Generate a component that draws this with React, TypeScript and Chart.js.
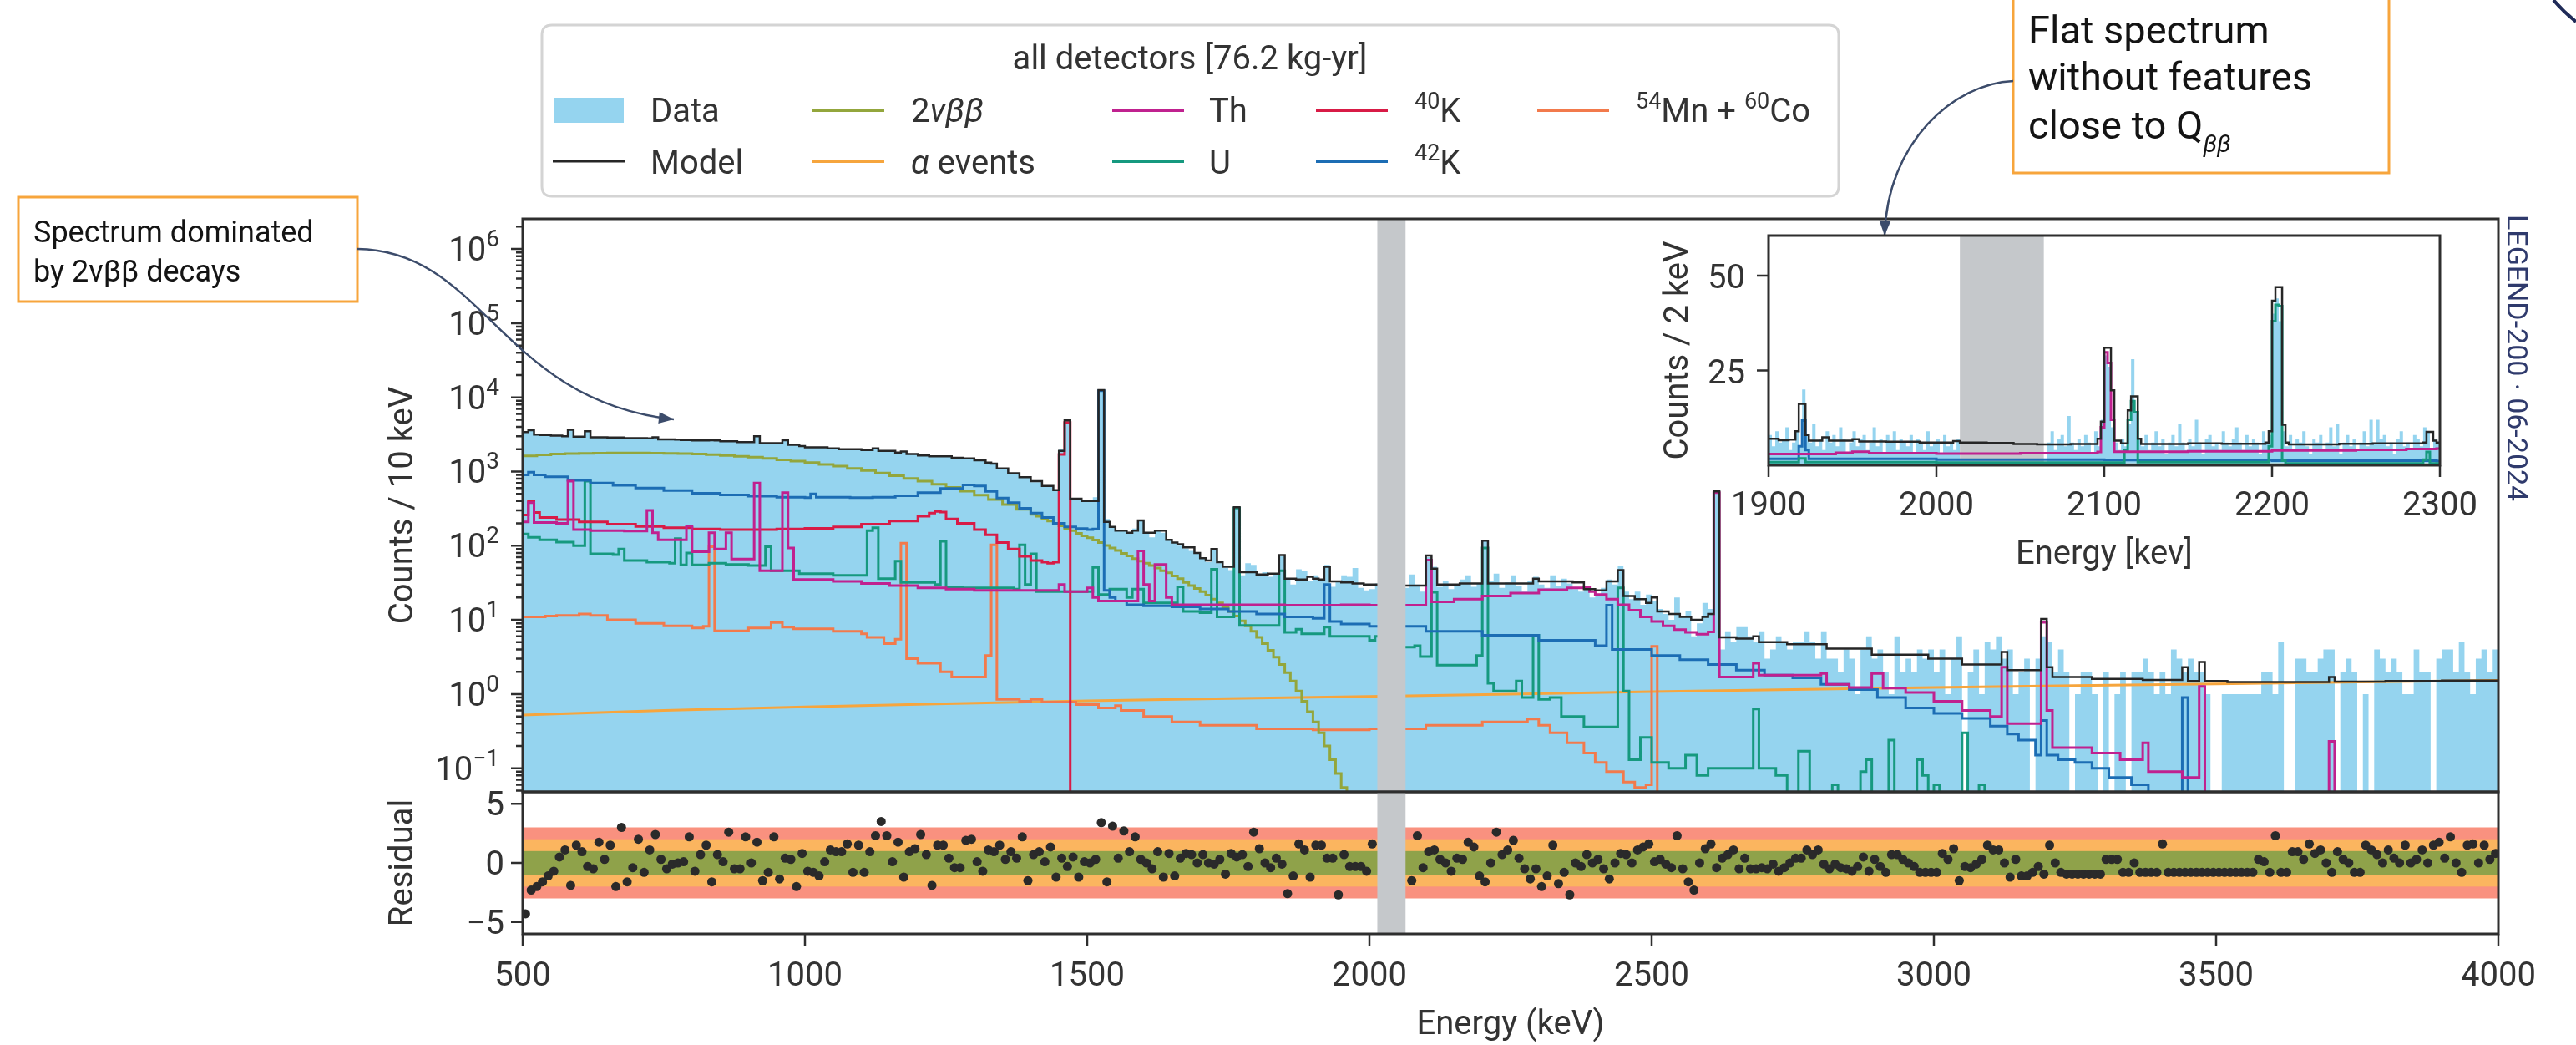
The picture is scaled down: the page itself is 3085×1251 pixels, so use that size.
import React, { useEffect, useRef } from 'react';
import { Chart, registerables } from 'chart.js';

Chart.register(...registerables);

type Pair = [number, number];

// ---------------- values ----------------
const X_TICKS = [500, 1000, 1500, 2000, 2500, 3000, 3500, 4000];
const Y_DECADES = [-1, 0, 1, 2, 3, 4, 5, 6];
const RES_TICKS = [-5, 0, 5];
const RES_BANDS = [3, 2, 1];
const INSET_X_TICKS = [1900, 2000, 2100, 2200, 2300];
const INSET_Y_TICKS = [25, 50];
const BLIND: Pair = [2014, 2064];
const X_RANGE: Pair = [500, 4000];
const Y_RANGE: Pair = [0.048, 2.55e6];
const RES_RANGE: Pair = [-6, 6];
const INSET_X_RANGE: Pair = [1900, 2300];
const INSET_Y_RANGE: Pair = [0, 60.6];

// main spectrum, counts / 10 keV, [bin start keV, value]
const MODEL: Pair[] = [[500,3400],[510,3600],[520,3150],[530,3100],[550,3050],[570,3000],[580,3650],[590,2950],[610,3500],[620,2900],[650,2870],[680,2830],[720,2800],[730,2900],[740,2720],[770,2700],[780,2660],[800,2620],[830,2650],[840,2620],[850,2560],[880,2500],[910,3000],[920,2420],[960,2650],[970,2300],[990,2200],[1000,2120],[1040,2060],[1060,2000],[1100,1950],[1120,2050],[1130,1900],[1160,1800],[1170,1860],[1180,1720],[1200,1650],[1220,1600],[1260,1530],[1280,1500],[1300,1420],[1320,1320],[1330,1280],[1340,1100],[1360,950],[1380,840],[1400,740],[1420,640],[1440,560],[1450,1900],[1460,4900],[1470,430],[1490,400],[1520,12500],[1530,210],[1540,180],[1550,160],[1570,150],[1580,160],[1590,220],[1600,150],[1620,160],[1640,120],[1650,110],[1660,105],[1670,95],[1690,80],[1700,68],[1710,63],[1720,90],[1730,60],[1740,52],[1760,330],[1770,44],[1800,41],[1820,42],[1840,75],[1850,36],[1870,35],[1890,38],[1900,36],[1910,35],[1920,52],[1930,33],[1950,32],[1970,31],[1990,30],[2050,29],[2100,74],[2110,49],[2120,30],[2160,31],[2200,117],[2210,31],[2290,36],[2300,33],[2360,32],[2380,26],[2400,25],[2420,33],[2440,47],[2450,21],[2470,19],[2490,17],[2500,20],[2510,13],[2530,12],[2550,11],[2570,10],[2590,11],[2600,12],[2610,540],[2620,5.8],[2650,5.6],[2680,6],[2690,5],[2740,4.7],[2810,4.1],[2890,3.4],[2990,3.0],[3050,2.5],[3120,3.7],[3130,2.1],[3190,10.3],[3200,2.3],[3210,1.7],[3280,1.6],[3370,1.55],[3440,2.3],[3450,1.5],[3470,2.7],[3480,1.5],[3520,1.45],[3700,1.7],[3710,1.47],[3800,1.5],[3900,1.52]];

const DATA_LOW: Pair[] = [[500,3350],[510,3650],[520,3100],[530,3120],[550,3000],[570,3020],[580,3600],[590,2900],[610,3450],[620,2880],[650,2850],[680,2850],[720,2780],[730,2850],[740,2740],[770,2680],[800,2640],[830,2600],[840,2640],[850,2540],[880,2520],[910,2950],[920,2400],[960,2700],[970,2280],[990,2190],[1000,2100],[1040,2080],[1060,1980],[1100,1960],[1120,2020],[1130,1880],[1160,1790],[1170,1880],[1180,1700],[1200,1660],[1220,1580],[1240,1620],[1260,1510],[1280,1480],[1300,1430],[1320,1300],[1330,1290],[1340,1120],[1360,930],[1380,850],[1400,720],[1420,650],[1440,570],[1450,2000],[1460,4700],[1470,440],[1490,390],[1510,450],[1520,12000],[1530,230],[1540,175],[1550,165],[1570,145],[1580,170],[1590,215]];

// data from 1600 keV on, one value per 10 keV bin
const DATA_HIGH_START = 1600;
const DATA_HIGH: number[] = [
  150,130,165,150,118,112,100,92,85,78,
  70,60,88,58,50,47,330,40,58,55,
  40,44,38,42,72,36,30,48,46,33,
  40,35,55,28,34,40,38,50,27,25,
  26,31,0,0,0,0,27,41,30,24,
  70,52,28,33,26,30,35,40,28,31,
  120,34,42,27,32,40,29,24,33,38,
  30,27,40,29,36,31,26,24,28,20,
  22,27,35,30,54,24,19,24,16,22,
  18,14,12,10,20,11,13,6,9,17,
  14,530,4,7,5,8,8,6,5,7,
  3,4,6,5,4,5,5,7,5,3,
  7,3,3,2,4,3,1,4,6,3,
  4,2,1,6,2,3,2,4,3,4,
  2,4,1,3,6,0,2,4,1,5,
  4,6,3,4,1,2,3,0,3,6,
  5,2,4,2,0,1,2,2,1,0,
  2,0,1,2,0,2,2,3,2,1,
  2,1,4,3,2,3,2,2,1,0,
  0,1,1,1,1,1,1,1,2,2,
  1,5,0,0,3,3,2,2,3,4,
  4,0,2,3,2,0,1,0,4,3,
  2,3,2,1,1,4,2,2,0,3,
  4,4,2,5,2,1,3,4,2,4,
];

const BB2NU: Pair[] = [[500,1630],[525,1680],[550,1720],[575,1745],[600,1760],[625,1772],[650,1780],[675,1782],[700,1780],[725,1772],[750,1760],[775,1742],[800,1720],[825,1690],[850,1650],[875,1608],[900,1560],[925,1502],[950,1440],[975,1382],[1000,1320],[1025,1250],[1050,1180],[1075,1105],[1100,1030],[1125,955],[1150,880],[1175,808],[1200,740],[1225,675],[1250,610],[1275,545],[1300,480],[1325,420],[1350,360],[1375,310],[1400,265],[1410,250],[1420,232],[1430,215],[1440,200],[1450,185],[1460,172],[1470,160],[1480,147],[1490,136],[1500,128],[1510,119],[1520,110],[1530,101],[1540,93],[1550,86],[1560,79],[1570,73],[1580,67],[1590,62],[1600,58],[1610,54],[1620,50],[1630,46],[1640,43],[1650,39],[1660,36],[1670,32],[1680,29],[1690,26.5],[1700,24],[1710,21.5],[1720,19],[1730,17],[1740,15],[1750,13],[1760,11.3],[1770,9.7],[1780,8.3],[1790,7.0],[1800,5.8],[1810,4.8],[1820,3.9],[1830,3.15],[1840,2.5],[1850,1.95],[1860,1.5],[1870,1.1],[1880,0.8],[1890,0.58],[1900,0.42],[1910,0.3],[1920,0.2],[1930,0.13],[1940,0.085],[1950,0.055],[1960,0]];

const ALPHA: Pair[] = [[500,0.52],[750,0.6],[1000,0.67],[1250,0.74],[1500,0.81],[1750,0.87],[2000,0.93],[2250,1.0],[2500,1.08],[2750,1.15],[3000,1.23],[3250,1.3],[3500,1.37],[3750,1.45],[4000,1.53]];

const TH: Pair[] = [[500,210],[510,380],[520,205],[560,200],[580,740],[590,165],[620,160],[680,158],[720,300],[730,150],[740,120],[790,185],[800,83],[830,150],[840,90],[860,150],[870,66],[900,66],[910,700],[920,46],[960,520],[970,93],[980,35],[1050,33],[1100,31],[1150,29],[1200,27],[1250,26],[1300,25],[1450,30],[1460,24],[1500,27],[1510,20],[1520,18],[1580,18],[1590,85],[1600,30],[1610,18],[1620,56],[1640,20],[1650,16],[1800,16],[1850,15.8],[1950,16],[2000,15.8],[2100,64],[2110,17.5],[2150,19],[2200,21],[2250,23],[2300,25.5],[2350,27],[2380,27.5],[2390,24],[2400,22],[2420,19],[2440,16],[2460,13.5],[2480,11],[2500,9.5],[2520,8.3],[2540,7.4],[2560,6.8],[2580,6.4],[2600,6.9],[2610,520],[2620,1.7],[2680,2.6],[2690,1.8],[2800,1.9],[2810,1.35],[2850,1.23],[2890,1.9],[2910,1.2],[2950,1.05],[3000,0.8],[3050,0.6],[3100,0.5],[3120,2.3],[3130,0.4],[3190,9.3],[3200,0.6],[3210,0.19],[3280,0.16],[3330,0.13],[3370,0.22],[3380,0.09],[3440,0.075],[3470,1.27],[3480,0],[3700,0.23],[3710,0]];

const U_SERIES: Pair[] = [[500,144],[510,130],[530,120],[560,112],[590,100],[610,740],[620,78],[660,76],[670,90],[680,63],[720,60],[760,58],[770,125],[780,55],[790,80],[800,55],[830,58],[860,56],[900,54],[930,97],[940,46],[990,42],[1050,40],[1110,160],[1120,175],[1130,36],[1160,62],[1170,32],[1230,30],[1240,115],[1250,28],[1280,27],[1370,26],[1380,103],[1390,30],[1400,78],[1410,24],[1500,24],[1510,51],[1520,22],[1540,26],[1570,20],[1580,26],[1600,17],[1660,28],[1670,13],[1700,12.5],[1720,48],[1730,11],[1760,322],[1770,8.4],[1840,46],[1850,6.8],[1870,7.5],[1880,6.5],[1920,8],[1930,6],[1950,6],[2000,5.3],[2010,6],[2020,4.8],[2050,4.3],[2080,4.5],[2090,3.2],[2110,23.6],[2120,2.45],[2190,3.3],[2200,93],[2210,1.4],[2220,1.1],[2260,1.5],[2270,0.9],[2290,6.2],[2300,0.85],[2320,0.9],[2340,0.5],[2380,0.36],[2440,27],[2450,1.1],[2460,0.13],[2480,0.26],[2500,0.12],[2530,0.1],[2560,0.15],[2580,0.08],[2600,0.1],[2680,0.63],[2690,0.1],[2720,0.08],[2740,0],[2760,0.17],[2780,0],[2820,0.06],[2830,0],[2870,0.09],[2880,0.13],[2890,0],[2920,0.24],[2930,0],[2970,0.13],[2980,0.08],[2990,0],[3000,0.06],[3010,0],[3050,0.3],[3060,0],[3080,0.06],[3090,0]];

const K40: Pair[] = [[500,260],[510,400],[520,280],[530,240],[560,225],[600,210],[650,195],[700,182],[750,175],[800,168],[850,165],[950,168],[1000,172],[1050,180],[1100,195],[1150,215],[1200,250],[1220,275],[1230,290],[1240,285],[1250,230],[1270,200],[1300,165],[1320,140],[1340,110],[1360,90],[1380,72],[1400,63],[1420,60],[1430,58],[1440,60],[1450,1700],[1460,4600],[1470,0]];

const K42: Pair[] = [[500,900],[510,980],[520,900],[540,850],[580,760],[620,700],[660,650],[700,600],[750,555],[800,510],[850,485],[900,465],[950,450],[1000,445],[1010,500],[1020,450],[1080,445],[1120,450],[1160,470],[1200,520],[1240,590],[1280,660],[1300,640],[1320,540],[1340,440],[1360,380],[1380,320],[1400,275],[1420,240],[1440,200],[1460,180],[1480,170],[1500,165],[1510,168],[1520,12300],[1530,25],[1540,20],[1550,18],[1570,16],[1600,15.5],[1650,15],[1700,14],[1750,13],[1800,12],[1850,11],[1900,10.5],[1920,30],[1930,9.5],[1950,8.8],[2000,8.2],[2100,7],[2200,6.2],[2300,5.3],[2400,4.5],[2420,15.8],[2430,4],[2500,3.3],[2550,2.9],[2600,2.5],[2650,2.1],[2700,1.8],[2750,1.65],[2800,1.35],[2850,1.15],[2900,0.9],[2950,0.65],[3000,0.55],[3050,0.47],[3100,0.37],[3130,0.29],[3150,0.24],[3180,0.15],[3190,0.44],[3200,0.15],[3220,0.13],[3250,0.12],[3280,0.1],[3310,0.075],[3350,0.06],[3380,0],[3440,0.9],[3450,0]];

const MNCO: Pair[] = [[500,11],[540,11.3],[560,11.5],[600,12],[620,11.5],[650,10],[700,9],[750,8.3],[800,7.8],[820,8.2],[830,97],[840,7.1],[900,7.8],[940,9.2],[960,8.0],[980,7.6],[1050,7.0],[1100,6.5],[1110,5.8],[1140,4.8],[1160,5.5],[1170,108],[1180,3.0],[1200,2.6],[1240,2.0],[1260,1.7],[1320,3.3],[1330,103],[1340,0.85],[1380,0.8],[1400,0.85],[1420,0.78],[1480,0.72],[1520,0.65],[1550,0.7],[1560,0.6],[1600,0.5],[1650,0.42],[1700,0.38],[1800,0.34],[1900,0.33],[2000,0.34],[2100,0.38],[2200,0.42],[2280,0.46],[2300,0.38],[2320,0.3],[2350,0.22],[2380,0.16],[2400,0.12],[2420,0.09],[2450,0.065],[2470,0.055],[2490,0.06],[2500,4.4],[2510,0]];

// residuals, one per 10 keV bin (centre = start + 5 + 10 i)
const RES_LOW_START = 500;
const RES_LOW: number[] = [
  -4.3,-2.3,-2.0,-1.6,-1.1,-0.7,0.5,1.1,-1.9,1.5,
  0.95,-0.3,-0.5,1.75,0.3,1.5,-2.0,3.0,-1.6,-0.4,
  2.0,-0.8,1.1,2.4,0.3,-0.5,-0.1,0,0.1,2.2,
  -0.7,0.7,1.5,-1.6,0.7,0.1,2.6,-0.5,-0.5,2.2,
  0,1.75,-1.5,-0.8,2.2,-1.35,0.4,0.3,-2.0,0.8,
  -0.7,-0.8,-1.1,0.1,1.1,0.95,0.95,1.6,-0.8,1.5,
  -0.8,0.95,2.3,3.5,2.3,0.1,1.75,-1.2,0.95,1.2,
  2.4,0.7,-1.9,1.5,1.5,0.4,-0.4,-0.4,1.9,2.0,
  0.1,-0.7,1.1,0.95,1.5,0.3,0.95,0.4,2.2,-1.5,
  0.7,0.95,0.1,1.35,-1.2,0.4,-0.3,0.5,-1.2,0.1,
  0,0.3,3.4,-1.6,3.1,0.4,2.7,0.95,2.2,0.3,
  0,-0.5,0.95,-1.2,0.8,-1.1,0.4,0.8,0.7,0,
  0.7,0,-0.1,0.3,-0.95,0.8,0.5,0.7,-0.3,2.6,
  1.2,0,-0.4,0.4,-0.1,-2.6,-1.1,1.6,1.1,-1.2,
  1.5,1.5,0.4,0.4,-2.7,0.7,-0.3,-0.3,-0.3,-0.7,
  1.6,
];
const RES_HIGH_START = 2070;
const RES_HIGH: number[] = [
  -1.5,2.3,-0.4,0.95,1.1,0.3,0,-0.7,0.4,0.3,
  1.75,1.35,-1.1,-1.6,0,2.6,0.7,1.1,1.9,0.4,
  -0.5,-1.35,-0.5,-2.0,-1.1,1.5,-1.75,-0.8,-2.7,0,
  -0.3,0.7,0,0.3,-0.5,-1.35,0,0.8,0.7,0,
  1.1,1.35,1.6,0.1,0.3,-0.1,-0.4,2.3,-0.5,-1.6,
  -2.3,0,1.2,1.6,-0.4,0.4,0.7,1.1,-0.5,0.4,
  -0.5,-0.5,-0.4,-0.5,-0.1,-0.7,-0.4,0,0.4,0.4,
  1.1,0.7,1.1,-0.1,-0.5,-0.1,-0.4,-0.5,-0.7,-0.3,
  0.5,-0.7,0.3,-0.3,-0.8,0.7,0.7,0.3,0,-0.3,
  -0.8,-0.8,-0.8,-0.8,0.8,0.3,1.2,-1.5,-0.3,-0.4,
  -0.1,0.3,1.5,1.1,1.1,0,-1.2,0.3,-1.1,-1.1,
  -0.8,-0.3,-0.95,1.5,0,-0.8,-0.95,-0.95,-0.95,-0.95,
  -0.95,-0.95,-0.95,0.3,0.3,0.3,-0.8,-0.8,0,-0.8,
  -0.8,-0.8,-0.8,1.6,-0.8,-0.8,-0.8,-0.8,-0.8,-0.8,
  -0.8,-0.8,-0.8,-0.8,-0.8,-0.8,-0.8,-0.8,-0.8,-0.8,
  0.3,0.1,-0.8,2.3,-0.8,-0.8,0.95,0.95,0.3,1.6,
  0.8,1.1,0,-0.8,0.95,0.3,0,-0.8,-0.8,1.5,
  1.1,0.7,0,1.1,0.4,0,1.5,0,0.3,1.1,
  0,1.5,1.75,0.4,2.2,0,-0.8,1.5,1.6,0,
  1.5,0.3,0.8,
];

// inset, counts / 2 keV
const INSET_MODEL: Pair[] = [[1900,7.0],[1906,6.6],[1912,6.8],[1916,9],[1918,16.2],[1922,8],[1924,6.5],[1932,7.4],[1936,6.5],[1950,6.9],[1954,6.3],[1970,6.2],[1990,6.0],[2010,6.4],[2014,6.0],[2030,5.9],[2046,5.6],[2060,5.5],[2080,5.6],[2096,7],[2098,11.5],[2100,31],[2104,19.8],[2106,6.5],[2110,5.8],[2114,14.5],[2116,18.2],[2120,7],[2122,5.6],[2150,5.8],[2170,5.7],[2196,6],[2198,9],[2200,43.4],[2202,47],[2206,10.7],[2208,6],[2210,5.5],[2240,5.7],[2260,5.8],[2290,6],[2292,8.8],[2296,6.5],[2298,6]];
const INSET_TH: Pair[] = [[1900,3.0],[1940,3.3],[1950,3.6],[1960,3.2],[2000,3.1],[2050,3.2],[2096,3.5],[2098,10],[2100,29.8],[2102,27],[2104,12],[2106,3.6],[2150,3.7],[2200,3.9],[2250,4.1],[2280,4.3],[2298,4.4]];
const INSET_U: Pair[] = [[1900,0.8],[1918,1.8],[1922,0.8],[2000,0.7],[2112,4],[2114,12],[2116,16.9],[2118,14],[2120,0.8],[2198,5],[2200,38],[2202,42.3],[2204,42],[2206,1.2],[2208,0.5],[2290,1.5],[2292,3.5],[2294,0.5],[2298,0.5]];
const INSET_K42: Pair[] = [[1900,1.7],[1918,5],[1920,11.8],[1922,4],[1924,1.7],[2000,1.5],[2100,1.4],[2200,1.2],[2298,1.1]];
const INSET_ALPHA: Pair[] = [[1900,0.19],[2300,0.2]];
const INSET_MNCO: Pair[] = [[1900,0.07],[2300,0.08]];
const INSET_DATA_A_START = 1900;
const INSET_DATA_A: number[] = [8,5,9,6,7,10,4,6,9,5,20,8,6,11,5,7,4,9,6,8,5,10,7,3,6,9,5,7,8,4,6,10,5,7,3,8,6,9,4,7,6,5,8,3,7,6,4,9,5,6,7,3,8,5,6,4,7];
const INSET_DATA_B_START = 2066;
const INSET_DATA_B: number[] = [
  6,9,4,7,8,5,13,6,4,7,
  5,8,6,3,9,5,12,29,26,10,
  6,4,7,5,11,28,14,7,5,8,
  4,6,9,5,7,3,6,8,5,11,
  6,4,7,5,12,6,3,7,8,5,
  6,4,9,6,5,7,10,6,4,8,
  5,7,6,3,9,6,8,40,44,38,
  9,5,8,4,7,6,9,5,3,7,
  6,8,4,6,10,5,11,3,6,8,
  5,7,4,6,9,5,12,6,12,7,
  8,5,6,3,7,9,5,6,4,8,
  7,5,10,9,4,7,6,
];

// ---------------- layout & style ----------------
const W = 3085;
const H = 1251;
const MAIN_AREA = { left: 626, top: 262, right: 2992, bottom: 948 };
const RES_AREA = { left: 626, top: 948, right: 2992, bottom: 1118 };
const INSET_AREA = { left: 2118, top: 282, right: 2922, bottom: 557 };
// empty bins are drawn at a value below the log axis (a zero cannot be placed on a log scale)
const LOG_FLOOR = 1e-3;

const COL = {
  data: '#95d4ef', model: '#262626', bb: '#93a63c', alpha: '#f6a53d', th: '#c0218f', u: '#16997f',
  k40: '#d81b46', k42: '#1c6db4', mn: '#f27a4c', grey: '#c5c8cb', frame: '#2e2e2e', text: '#333333',
  red: '#f9917f', orange: '#fbb55f', green: '#8fa24a', dot: '#2a2a2a', annot: '#f7a53c',
  arrow: '#3c4c6b', brand: '#2f3a6c',
};

const FAMILY = 'Roboto, "Noto Sans", "DejaVu Sans", sans-serif';
const font = (size: number, style = '') => `${style ? style + ' ' : ''}${size}px ${FAMILY}`;

// ---------------- helpers ----------------
function steps(pairs: Pair[], end?: number, floor?: number) {
  const fy = (y: number) => (floor !== undefined && y <= 0 ? floor : y);
  const pts = pairs.map(([x, y]) => ({ x, y: fy(y) }));
  if (end !== undefined) pts.push({ x: end, y: fy(pairs[pairs.length - 1][1]) });
  return pts;
}
function points(pairs: Pair[]) {
  return pairs.map(([x, y]) => ({ x, y }));
}
function pad(a: any) {
  return { left: a.left, top: a.top, right: W - a.right, bottom: H - a.bottom };
}
function lineDs(label: string, data: any[], color: string, width: number, stepped: any = 'before') {
  return { label, data, borderColor: color, backgroundColor: color, borderWidth: width, stepped, pointRadius: 0, fill: false };
}
function fillDs(label: string, data: any[], color: string) {
  return { label, data, stepped: 'before', fill: 'start', backgroundColor: color, borderColor: 'rgba(0,0,0,0)', borderWidth: 0, pointRadius: 0 };
}
function baseOptions(area: any, xs: any, ys: any) {
  return {
    responsive: false,
    animation: false,
    devicePixelRatio: 1,
    events: [],
    layout: { padding: pad(area) },
    scales: { x: { ...xs, display: false }, y: { ...ys, display: false } },
    plugins: { legend: { display: false }, tooltip: { enabled: false }, title: { display: false } },
    elements: { point: { radius: 0 }, line: { tension: 0 } },
  };
}

function text(ctx: CanvasRenderingContext2D, s: string, x: number, y: number, size: number, o: any = {}) {
  ctx.font = font(size, o.style);
  ctx.textAlign = o.align || 'left';
  ctx.textBaseline = 'alphabetic';
  ctx.fillStyle = o.color || COL.text;
  ctx.fillText(s, x, y);
  return ctx.measureText(s).width;
}
function rich(ctx: CanvasRenderingContext2D, parts: any[], x: number, y: number, color?: string) {
  let cx = x;
  for (const p of parts) cx += text(ctx, p[0], cx, y + (p[3] || 0), p[1], { style: p[2], color });
}
function vtext(ctx: CanvasRenderingContext2D, s: string, x: number, y: number, size: number, angle: number, color = COL.text) {
  ctx.save();
  ctx.translate(x, y);
  ctx.rotate(angle);
  text(ctx, s, 0, 0, size, { align: 'center', color });
  ctx.restore();
}
function frame(ctx: CanvasRenderingContext2D, a: any) {
  ctx.strokeStyle = COL.frame;
  ctx.lineWidth = 3;
  ctx.strokeRect(a.left, a.top, a.right - a.left, a.bottom - a.top);
}
function band(chart: any) {
  const { ctx, chartArea: a, scales } = chart;
  const x0 = scales.x.getPixelForValue(BLIND[0]);
  const x1 = scales.x.getPixelForValue(BLIND[1]);
  ctx.save();
  ctx.fillStyle = COL.grey;
  ctx.fillRect(x0, a.top, x1 - x0, a.bottom - a.top);
  ctx.restore();
}
function roundRect(ctx: CanvasRenderingContext2D, x: number, y: number, w: number, h: number, r: number) {
  ctx.beginPath();
  ctx.moveTo(x + r, y);
  ctx.lineTo(x + w - r, y);
  ctx.quadraticCurveTo(x + w, y, x + w, y + r);
  ctx.lineTo(x + w, y + h - r);
  ctx.quadraticCurveTo(x + w, y + h, x + w - r, y + h);
  ctx.lineTo(x + r, y + h);
  ctx.quadraticCurveTo(x, y + h, x, y + h - r);
  ctx.lineTo(x, y + r);
  ctx.quadraticCurveTo(x, y, x + r, y);
  ctx.closePath();
}
function arrow(ctx: CanvasRenderingContext2D, p0: Pair, p1: Pair, p2: Pair, p3: Pair) {
  ctx.strokeStyle = COL.arrow;
  ctx.fillStyle = COL.arrow;
  ctx.lineWidth = 2.5;
  ctx.beginPath();
  ctx.moveTo(p0[0], p0[1]);
  ctx.bezierCurveTo(p1[0], p1[1], p2[0], p2[1], p3[0], p3[1]);
  ctx.stroke();
  const ang = Math.atan2(p3[1] - p2[1], p3[0] - p2[0]);
  const L = 18, hw = 7;
  const c = Math.cos(ang), s = Math.sin(ang);
  ctx.beginPath();
  ctx.moveTo(p3[0], p3[1]);
  ctx.lineTo(p3[0] - L * c + hw * s, p3[1] - L * s - hw * c);
  ctx.lineTo(p3[0] - L * c - hw * s, p3[1] - L * s + hw * c);
  ctx.closePath();
  ctx.fill();
}

function drawLegend(ctx: CanvasRenderingContext2D) {
  ctx.save();
  roundRect(ctx, 649, 30, 1553, 205, 12);
  ctx.fillStyle = 'rgba(255,255,255,0.9)';
  ctx.fill();
  ctx.strokeStyle = '#d4d4d4';
  ctx.lineWidth = 3;
  ctx.stroke();
  text(ctx, 'all detectors [76.2 kg-yr]', 1425, 83, 40, { align: 'center' });
  ctx.fillStyle = COL.data;
  ctx.fillRect(664, 117, 83, 30);
  const handle = (x0: number, y: number, color: string, w = 4) => {
    ctx.strokeStyle = color;
    ctx.lineWidth = w;
    ctx.beginPath();
    ctx.moveTo(x0, y);
    ctx.lineTo(x0 + 86, y);
    ctx.stroke();
  };
  handle(662, 193, COL.model, 3);
  handle(973, 132, COL.bb);
  handle(973, 193, COL.alpha);
  handle(1332, 132, COL.th);
  handle(1332, 193, COL.u);
  handle(1576, 132, COL.k40);
  handle(1576, 193, COL.k42);
  handle(1841, 132, COL.mn);
  const r1 = 146, r2 = 208;
  text(ctx, 'Data', 779, r1, 40);
  text(ctx, 'Model', 779, r2, 40);
  rich(ctx, [['2', 40], ['\u03bd\u03b2\u03b2', 40, 'italic']], 1091, r1);
  rich(ctx, [['\u03b1', 40, 'italic'], [' events', 40]], 1091, r2);
  text(ctx, 'Th', 1448, r1, 40);
  text(ctx, 'U', 1448, r2, 40);
  rich(ctx, [['40', 27, '', -16], ['K', 40]], 1694, r1);
  rich(ctx, [['42', 27, '', -16], ['K', 40]], 1694, r2);
  rich(ctx, [['54', 27, '', -16], ['Mn + ', 40], ['60', 27, '', -16], ['Co', 40]], 1959, r1);
  ctx.restore();
}

function drawAnnotations(ctx: CanvasRenderingContext2D) {
  ctx.save();
  // box 1
  ctx.fillStyle = '#ffffff';
  ctx.fillRect(22, 236, 406, 125);
  ctx.strokeStyle = COL.annot;
  ctx.lineWidth = 3;
  ctx.strokeRect(22, 236, 406, 125);
  text(ctx, 'Spectrum dominated', 40, 290, 36, { color: '#141414' });
  text(ctx, 'by 2v\u03b2\u03b2 decays', 40, 337, 36, { color: '#141414' });
  // box 2
  ctx.fillStyle = '#ffffff';
  ctx.fillRect(2411, -4, 450, 211);
  ctx.strokeStyle = COL.annot;
  ctx.strokeRect(2411, -4, 450, 211);
  text(ctx, 'Flat spectrum', 2429, 52, 47, { color: '#141414' });
  text(ctx, 'without features', 2429, 108, 47, { color: '#141414' });
  rich(ctx, [['close to Q', 47], ['\u03b2\u03b2', 29, 'italic', 16]], 2429, 166, '#141414');
  // arrows
  arrow(ctx, [428, 298], [580, 300], [600, 480], [807, 502]);
  arrow(ctx, [2411, 97], [2340, 100], [2260, 170], [2257, 282]);
  // vertical brand text
  ctx.save();
  ctx.translate(3003, 257);
  ctx.rotate(Math.PI / 2);
  text(ctx, 'LEGEND-200 \u00b7 06-2024', 0, 0, 34, { color: COL.brand });
  ctx.restore();
  // corner arc
  ctx.strokeStyle = '#1f2b58';
  ctx.lineWidth = 4;
  ctx.beginPath();
  ctx.moveTo(3058, 0);
  ctx.quadraticCurveTo(3070, 14, 3085, 26);
  ctx.stroke();
  ctx.restore();
}

// ---------------- plugins ----------------
const mainDeco = {
  id: 'mainDeco',
  afterDatasetsDraw(chart: any) {
    band(chart);
  },
  afterDraw(chart: any) {
    const { ctx, chartArea: a, scales } = chart;
    const y = scales.y;
    ctx.save();
    frame(ctx, a);
    ctx.strokeStyle = COL.frame;
    ctx.lineWidth = 2.5;
    ctx.beginPath();
    for (let d = -2; d <= 6; d++) {
      for (let k = 1; k <= 9; k++) {
        const v = k * Math.pow(10, d);
        if (v < Y_RANGE[0] || v > Y_RANGE[1]) continue;
        const py = y.getPixelForValue(v);
        ctx.moveTo(a.left - (k === 1 ? 14 : 8), py);
        ctx.lineTo(a.left, py);
      }
    }
    ctx.stroke();
    for (const d of Y_DECADES) {
      const py = y.getPixelForValue(Math.pow(10, d));
      const exp = d < 0 ? '\u2212' + Math.abs(d) : String(d);
      ctx.font = font(28);
      const ew = ctx.measureText(exp).width;
      text(ctx, exp, 598 - ew, py - 3, 28);
      text(ctx, '10', 598 - ew, py + 14, 40, { align: 'right' });
    }
    vtext(ctx, 'Counts / 10 keV', 494, (a.top + a.bottom) / 2, 40, -Math.PI / 2);
    drawLegend(ctx);
    drawAnnotations(ctx);
    ctx.restore();
  },
};

const resDeco = {
  id: 'resDeco',
  beforeDatasetsDraw(chart: any) {
    const { ctx, chartArea: a, scales } = chart;
    const fills = [COL.red, COL.orange, COL.green];
    ctx.save();
    RES_BANDS.forEach((b, i) => {
      const t = scales.y.getPixelForValue(b);
      const bt = scales.y.getPixelForValue(-b);
      ctx.fillStyle = fills[i];
      ctx.fillRect(a.left, t, a.right - a.left, bt - t);
    });
    ctx.restore();
  },
  afterDatasetsDraw(chart: any) {
    band(chart);
  },
  afterDraw(chart: any) {
    const { ctx, chartArea: a, scales } = chart;
    const { x, y } = scales;
    ctx.save();
    frame(ctx, a);
    ctx.strokeStyle = COL.frame;
    ctx.lineWidth = 2.5;
    ctx.beginPath();
    for (const t of RES_TICKS) {
      const py = y.getPixelForValue(t);
      ctx.moveTo(a.left - 14, py);
      ctx.lineTo(a.left, py);
    }
    for (const t of X_TICKS) {
      const px = x.getPixelForValue(t);
      ctx.moveTo(px, a.bottom);
      ctx.lineTo(px, a.bottom + 14);
    }
    ctx.stroke();
    for (const t of RES_TICKS) {
      text(ctx, t < 0 ? '\u2212' + Math.abs(t) : String(t), 604, y.getPixelForValue(t) + 14, 40, { align: 'right' });
    }
    for (const t of X_TICKS) text(ctx, String(t), x.getPixelForValue(t), 1180, 40, { align: 'center' });
    text(ctx, 'Energy (keV)', (a.left + a.right) / 2, 1238, 40, { align: 'center' });
    vtext(ctx, 'Residual', 494, (a.top + a.bottom) / 2, 40, -Math.PI / 2);
    ctx.restore();
  },
};

const insetDeco = {
  id: 'insetDeco',
  afterDatasetDraw(chart: any, args: any) {
    if (args.index === chart.data.datasets.length - 1) band(chart);
  },
  afterDraw(chart: any) {
    const { ctx, chartArea: a, scales } = chart;
    const { x, y } = scales;
    ctx.save();
    frame(ctx, a);
    ctx.strokeStyle = COL.frame;
    ctx.lineWidth = 2.5;
    ctx.beginPath();
    for (const t of INSET_Y_TICKS) {
      const py = y.getPixelForValue(t);
      ctx.moveTo(a.left - 14, py);
      ctx.lineTo(a.left, py);
    }
    for (const t of INSET_X_TICKS) {
      const px = x.getPixelForValue(t);
      ctx.moveTo(px, a.bottom);
      ctx.lineTo(px, a.bottom + 14);
    }
    ctx.stroke();
    for (const t of INSET_Y_TICKS) text(ctx, String(t), 2090, y.getPixelForValue(t) + 15, 40, { align: 'right' });
    for (const t of INSET_X_TICKS) text(ctx, String(t), x.getPixelForValue(t), 617, 40, { align: 'center' });
    text(ctx, 'Energy [kev]', (a.left + a.right) / 2, 675, 40, { align: 'center' });
    vtext(ctx, 'Counts / 2 keV', 2021, (a.top + a.bottom) / 2, 40, -Math.PI / 2);
    ctx.restore();
  },
};

// ---------------- charts ----------------
function makeMain(cv: HTMLCanvasElement) {
  const dataPairs: Pair[] = [...DATA_LOW, ...DATA_HIGH.map((v, i) => [DATA_HIGH_START + 10 * i, v] as Pair)];
  const F = LOG_FLOOR;
  return new Chart(cv, {
    type: 'line',
    data: {
      datasets: [
        lineDs('Model', steps(MODEL, X_RANGE[1], F), COL.model, 2.5),
        lineDs('Th', steps(TH, undefined, F), COL.th, 3),
        lineDs('40K', steps(K40, undefined, F), COL.k40, 3),
        lineDs('42K', steps(K42, undefined, F), COL.k42, 3),
        lineDs('U', steps(U_SERIES, undefined, F), COL.u, 3),
        lineDs('2vbb', steps(BB2NU, undefined, F), COL.bb, 3),
        lineDs('54Mn + 60Co', steps(MNCO, undefined, F), COL.mn, 3),
        lineDs('alpha events', points(ALPHA), COL.alpha, 3, false),
        fillDs('Data', steps(dataPairs, X_RANGE[1], F), COL.data),
      ] as any,
    },
    options: baseOptions(
      MAIN_AREA,
      { type: 'linear', min: X_RANGE[0], max: X_RANGE[1] },
      { type: 'logarithmic', min: Y_RANGE[0], max: Y_RANGE[1] },
    ) as any,
    plugins: [mainDeco],
  });
}

function makeResidual(cv: HTMLCanvasElement) {
  const pts = [
    ...RES_LOW.map((v, i) => ({ x: RES_LOW_START + 5 + 10 * i, y: v })),
    ...RES_HIGH.map((v, i) => ({ x: RES_HIGH_START + 5 + 10 * i, y: v })),
  ];
  return new Chart(cv, {
    type: 'scatter',
    data: {
      datasets: [
        { label: 'Residual', data: pts, pointRadius: 5.5, pointBackgroundColor: COL.dot, pointBorderWidth: 0, showLine: false } as any,
      ],
    },
    options: baseOptions(
      RES_AREA,
      { type: 'linear', min: X_RANGE[0], max: X_RANGE[1] },
      { type: 'linear', min: RES_RANGE[0], max: RES_RANGE[1] },
    ) as any,
    plugins: [resDeco],
  });
}

function makeInset(cv: HTMLCanvasElement) {
  const dataPairs: Pair[] = [
    ...INSET_DATA_A.map((v, i) => [INSET_DATA_A_START + 2 * i, v] as Pair),
    [BLIND[0], 0],
    ...INSET_DATA_B.map((v, i) => [INSET_DATA_B_START + 2 * i, v] as Pair),
  ];
  return new Chart(cv, {
    type: 'line',
    data: {
      datasets: [
        lineDs('Model', steps(INSET_MODEL, INSET_X_RANGE[1]), COL.model, 2.5),
        lineDs('Th', steps(INSET_TH, INSET_X_RANGE[1]), COL.th, 3),
        lineDs('U', steps(INSET_U, INSET_X_RANGE[1]), COL.u, 3),
        lineDs('42K', steps(INSET_K42, INSET_X_RANGE[1]), COL.k42, 3),
        lineDs('54Mn + 60Co', points(INSET_MNCO), COL.mn, 2.5, false),
        lineDs('alpha events', points(INSET_ALPHA), COL.alpha, 2.5, false),
        fillDs('Data', steps(dataPairs, INSET_X_RANGE[1]), COL.data),
      ] as any,
    },
    options: baseOptions(
      INSET_AREA,
      { type: 'linear', min: INSET_X_RANGE[0], max: INSET_X_RANGE[1] },
      { type: 'linear', min: INSET_Y_RANGE[0], max: INSET_Y_RANGE[1] },
    ) as any,
    plugins: [insetDeco],
  });
}

export default function App() {
  const mainRef = useRef<HTMLCanvasElement>(null);
  const resRef = useRef<HTMLCanvasElement>(null);
  const insRef = useRef<HTMLCanvasElement>(null);
  useEffect(() => {
    const charts = [makeMain(mainRef.current!), makeResidual(resRef.current!), makeInset(insRef.current!)];
    return () => charts.forEach((c) => c.destroy());
  }, []);
  const cs: React.CSSProperties = { position: 'absolute', left: 0, top: 0, width: W, height: H };
  return (
    <div style={{ position: 'absolute', left: 0, top: 0, width: W, height: H, background: '#ffffff', overflow: 'hidden' }}>
      <canvas ref={mainRef} width={W} height={H} style={cs} />
      <canvas ref={resRef} width={W} height={H} style={cs} />
      <canvas ref={insRef} width={W} height={H} style={cs} />
    </div>
  );
}
